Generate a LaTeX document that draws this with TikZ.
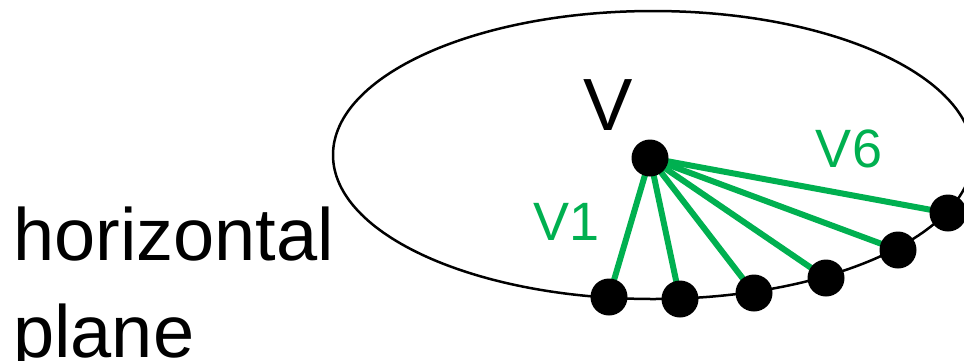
\documentclass[tikz,border=0pt]{standalone}
\usepackage{fontspec}
\setmainfont{Liberation Sans}
\definecolor{pgreen}{HTML}{00B050}
\begin{document}
\begin{tikzpicture}[x=1pt,y=-1pt,
  dot/.style={circle,fill=black,inner sep=0pt,minimum size=37pt},
  ray/.style={draw=pgreen,line width=6pt},
  lbl/.style={inner sep=0pt,anchor=base,font=\fontsize{54}{60}\selectfont,text=pgreen}]
\useasboundingbox (0,0) rectangle (964,360);
\draw[line width=2.5pt] (653,155) ellipse [x radius=320, y radius=144];
\coordinate (vc) at (650,158);
\coordinate (c1) at (609,297);
\coordinate (c2) at (680,299);
\coordinate (c3) at (754,293);
\coordinate (c4) at (826,278);
\coordinate (c5) at (898,250);
\coordinate (c6) at (948,213);
\foreach \i in {1,...,6} \draw[ray] (vc) -- (c\i);
\node[dot] (v) at (vc) {};
\foreach \i in {1,...,6} \node[dot] (d\i) at (c\i) {};
\node[inner sep=0pt,anchor=base,font=\fontsize{74}{80}\selectfont] (vl) at (608,130) {V};
\node[lbl] (v6) at (849,167) {V6};
\node[lbl] (v1) at (567,240) {V1};
\node[inner sep=0pt,anchor=base west,font=\fontsize{74}{80}\selectfont] (h1) at (13,260) {horizontal};
\node[inner sep=0pt,anchor=base west,font=\fontsize{74}{80}\selectfont] (h2) at (13,357) {plane};
\end{tikzpicture}
\end{document}
